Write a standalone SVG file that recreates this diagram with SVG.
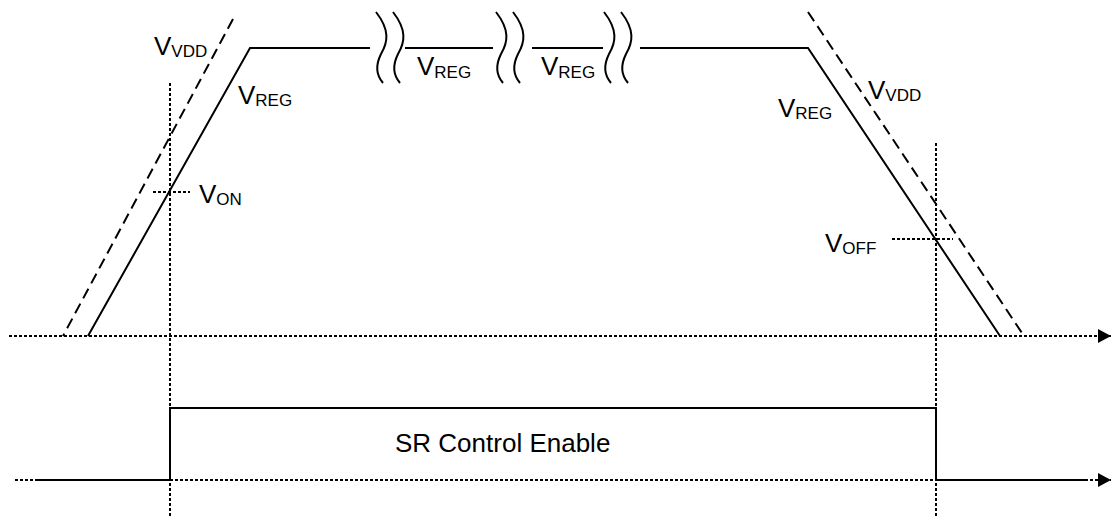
<svg xmlns="http://www.w3.org/2000/svg" width="1112" height="521" viewBox="0 0 1112 521">
<style>
.solid{fill:none;stroke:#000;stroke-width:2}
.dash{fill:none;stroke:#000;stroke-width:2;stroke-dasharray:11 6}
.dot{fill:none;stroke:#000;stroke-width:2;stroke-dasharray:3 2}
.brk{fill:none;stroke:#000;stroke-width:2}
text{font-family:"Liberation Sans",Arial,sans-serif;font-size:26px;fill:#000}
.sub{font-size:17px}
</style>
<defs>
<marker id="arr" markerWidth="14" markerHeight="14" refX="13" refY="7" orient="auto" markerUnits="userSpaceOnUse">
<path d="M0,0 L13,7 L0,14 Z" fill="#000"/>
</marker>
<path id="wave" d="M0,0 C14,18 12,30 5,42 C-1,54 1,64 7,71"/>
</defs>
<g id="axes">
<line class="dot" x1="9" y1="336" x2="1111" y2="336" marker-end="url(#arr)"/>
<line class="dot" x1="15" y1="480" x2="1111" y2="480" marker-end="url(#arr)"/>
<line class="dot" x1="170" y1="83" x2="170" y2="518"/>
<line class="dot" x1="936" y1="143" x2="936" y2="518"/>
<line class="dot" x1="153" y1="192" x2="190" y2="192"/>
<line class="dot" x1="892" y1="239" x2="953" y2="239"/>
</g>
<g id="vreg">
<polyline class="solid" points="88,336 250,48 370,48"/>
<line class="solid" x1="405" y1="48" x2="493" y2="48"/>
<line class="solid" x1="532" y1="48" x2="603" y2="48"/>
<polyline class="solid" points="640,48 808,48 1000,336"/>
</g>
<g id="breaks" class="brk">
<use href="#wave" x="376" y="12"/>
<use href="#wave" x="393" y="12"/>
<use href="#wave" x="496" y="12"/>
<use href="#wave" x="513" y="12"/>
<use href="#wave" x="604" y="12"/>
<use href="#wave" x="621" y="12"/>
</g>
<g id="vvdd">
<line class="dash" x1="233" y1="19" x2="63" y2="336"/>
<line class="dash" x1="808" y1="12" x2="1022" y2="333"/>
</g>
<g id="sr">
<polyline class="solid" points="38,480 170,480 170,408 936,408 936,480 1088,480"/>
<text x="395" y="452">SR Control Enable</text>
</g>
<g id="labels">
<text x="154" y="55">V<tspan class="sub" y="57">VDD</tspan></text>
<text x="238" y="104">V<tspan class="sub" y="106">REG</tspan></text>
<text x="199" y="203">V<tspan class="sub" y="205">ON</tspan></text>
<text x="417" y="75">V<tspan class="sub" y="78">REG</tspan></text>
<text x="541" y="75">V<tspan class="sub" y="78">REG</tspan></text>
<text x="868" y="99">V<tspan class="sub" y="101">VDD</tspan></text>
<text x="778" y="117">V<tspan class="sub" y="119">REG</tspan></text>
<text x="825" y="252">V<tspan class="sub" y="254">OFF</tspan></text>
</g>
</svg>
